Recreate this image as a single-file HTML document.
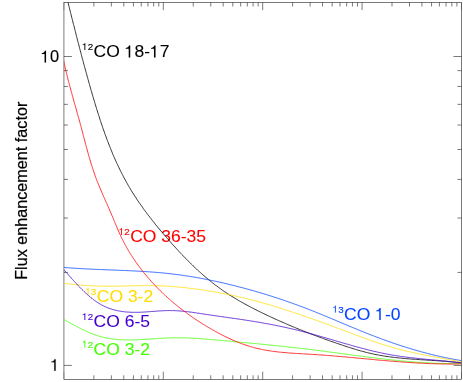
<!DOCTYPE html>
<html><head><meta charset="utf-8"><title>Flux enhancement factor</title>
<style>
html,body{margin:0;padding:0;background:#fff;}
body{width:463px;height:382px;overflow:hidden;}
svg{display:block;will-change:transform;}
text{font-family:"Liberation Sans",sans-serif;font-kerning:none;}
</style></head><body>
<svg width="463" height="382" viewBox="0 0 463 382">
<rect x="0" y="0" width="463" height="382" fill="#ffffff"/>
<defs><clipPath id="plotclip"><rect x="63.95" y="2.50" width="397.50" height="376.80"/></clipPath></defs>
<g fill="none" stroke="#000" stroke-width="0.52" shape-rendering="auto">
<rect x="63.95" y="2.50" width="397.50" height="376.80"/>
<path d="M93.86 2.50 v4.0 M93.86 379.30 v-4.0 M111.36 2.50 v4.0 M111.36 379.30 v-4.0 M123.78 2.50 v4.0 M123.78 379.30 v-4.0 M133.41 2.50 v4.0 M133.41 379.30 v-4.0 M141.28 2.50 v4.0 M141.28 379.30 v-4.0 M147.93 2.50 v4.0 M147.93 379.30 v-4.0 M153.69 2.50 v4.0 M153.69 379.30 v-4.0 M158.78 2.50 v4.0 M158.78 379.30 v-4.0 M163.32 2.50 v7.6 M163.32 379.30 v-7.6 M193.24 2.50 v4.0 M193.24 379.30 v-4.0 M210.74 2.50 v4.0 M210.74 379.30 v-4.0 M223.15 2.50 v4.0 M223.15 379.30 v-4.0 M232.79 2.50 v4.0 M232.79 379.30 v-4.0 M240.65 2.50 v4.0 M240.65 379.30 v-4.0 M247.31 2.50 v4.0 M247.31 379.30 v-4.0 M253.07 2.50 v4.0 M253.07 379.30 v-4.0 M258.15 2.50 v4.0 M258.15 379.30 v-4.0 M262.70 2.50 v7.6 M262.70 379.30 v-7.6 M292.61 2.50 v4.0 M292.61 379.30 v-4.0 M310.11 2.50 v4.0 M310.11 379.30 v-4.0 M322.53 2.50 v4.0 M322.53 379.30 v-4.0 M332.16 2.50 v4.0 M332.16 379.30 v-4.0 M340.03 2.50 v4.0 M340.03 379.30 v-4.0 M346.68 2.50 v4.0 M346.68 379.30 v-4.0 M352.44 2.50 v4.0 M352.44 379.30 v-4.0 M357.53 2.50 v4.0 M357.53 379.30 v-4.0 M362.07 2.50 v7.6 M362.07 379.30 v-7.6 M391.99 2.50 v4.0 M391.99 379.30 v-4.0 M409.49 2.50 v4.0 M409.49 379.30 v-4.0 M421.90 2.50 v4.0 M421.90 379.30 v-4.0 M431.54 2.50 v4.0 M431.54 379.30 v-4.0 M439.40 2.50 v4.0 M439.40 379.30 v-4.0 M446.06 2.50 v4.0 M446.06 379.30 v-4.0 M451.82 2.50 v4.0 M451.82 379.30 v-4.0 M456.90 2.50 v4.0 M456.90 379.30 v-4.0 M63.95 365.40 h8 M461.45 365.40 h-8 M63.95 56.50 h8 M461.45 56.50 h-8 M63.95 272.41 h4 M461.45 272.41 h-4 M63.95 218.02 h4 M461.45 218.02 h-4 M63.95 179.42 h4 M461.45 179.42 h-4 M63.95 149.49 h4 M461.45 149.49 h-4 M63.95 125.03 h4 M461.45 125.03 h-4 M63.95 104.35 h4 M461.45 104.35 h-4 M63.95 86.44 h4 M461.45 86.44 h-4 M63.95 70.63 h4 M461.45 70.63 h-4"/>
<path stroke-opacity="0.45" d="M63.95 2.50 v7.6 M63.95 379.30 v-7.6 M461.45 2.50 v7.6 M461.45 379.30 v-7.6"/>
</g>
<path transform="translate(40.86 62.40) scale(0.01640 -0.01640)" d="M314 0H230V518H60V562C150 568 222 610 250 709H314Z" fill="#000" stroke="#000" stroke-width="8.5"/>
<text transform="translate(49.98 62.40) scale(1.0000 1)" font-size="16.40" fill="#000" stroke="#000" stroke-width="0.14">0</text>
<path transform="translate(50.48 370.80) scale(0.01640 -0.01640)" d="M314 0H230V518H60V562C150 568 222 610 250 709H314Z" fill="#000" stroke="#000" stroke-width="8.5"/>
<text transform="translate(26.5 190.75) rotate(-90)" font-size="16.2" text-anchor="middle" fill="#000" stroke="#000" stroke-width="0.20">Flux enhancement factor</text>
<path transform="translate(82.20 50.10) scale(0.00980 -0.00980)" d="M314 0H230V518H60V562C150 568 222 610 250 709H314Z" fill="#000000" stroke="#000000" stroke-width="12.2"/>
<text transform="translate(87.65 50.10) scale(1.0000 1)" font-size="9.80" fill="#000000" stroke="#000000" stroke-width="0.12">2</text>
<text transform="translate(93.60 57.40) scale(1.0355 1)" font-size="16.90" fill="#000000" stroke="#000000" stroke-width="0.08">CO</text>
<path transform="translate(124.71 57.40) scale(0.01750 -0.01690)" d="M314 0H230V518H60V562C150 568 222 610 250 709H314Z" fill="#000000" stroke="#000000" stroke-width="4.7"/>
<text transform="translate(134.44 57.40) scale(1.0355 1)" font-size="16.90" fill="#000000" stroke="#000000" stroke-width="0.08">8-</text>
<path transform="translate(150.00 57.40) scale(0.01750 -0.01690)" d="M314 0H230V518H60V562C150 568 222 610 250 709H314Z" fill="#000000" stroke="#000000" stroke-width="4.7"/>
<text transform="translate(159.73 57.40) scale(1.0355 1)" font-size="16.90" fill="#000000" stroke="#000000" stroke-width="0.08">7</text>
<path transform="translate(118.80 234.90) scale(0.00980 -0.00980)" d="M314 0H230V518H60V562C150 568 222 610 250 709H314Z" fill="#ff0000" stroke="#ff0000" stroke-width="12.2"/>
<text transform="translate(124.25 234.90) scale(1.0000 1)" font-size="9.80" fill="#ff0000" stroke="#ff0000" stroke-width="0.12">2</text>
<text transform="translate(130.20 242.20) scale(1.0355 1)" font-size="16.90" fill="#ff0000" stroke="#ff0000" stroke-width="0.08">CO 36-35</text>
<path transform="translate(332.70 312.60) scale(0.00980 -0.00980)" d="M314 0H230V518H60V562C150 568 222 610 250 709H314Z" fill="#0044ff" stroke="#0044ff" stroke-width="12.2"/>
<text transform="translate(338.15 312.60) scale(1.0000 1)" font-size="9.80" fill="#0044ff" stroke="#0044ff" stroke-width="0.12">3</text>
<text transform="translate(344.10 319.90) scale(1.0355 1)" font-size="16.90" fill="#0044ff" stroke="#0044ff" stroke-width="0.08">CO</text>
<path transform="translate(375.22 319.90) scale(0.01750 -0.01690)" d="M314 0H230V518H60V562C150 568 222 610 250 709H314Z" fill="#0044ff" stroke="#0044ff" stroke-width="4.7"/>
<text transform="translate(384.95 319.90) scale(1.0355 1)" font-size="16.90" fill="#0044ff" stroke="#0044ff" stroke-width="0.08">-0</text>
<path transform="translate(85.40 294.70) scale(0.00980 -0.00980)" d="M314 0H230V518H60V562C150 568 222 610 250 709H314Z" fill="#ffdd00" stroke="#ffdd00" stroke-width="12.2"/>
<text transform="translate(90.85 294.70) scale(1.0000 1)" font-size="9.80" fill="#ffdd00" stroke="#ffdd00" stroke-width="0.12">3</text>
<text transform="translate(96.80 302.00) scale(1.0355 1)" font-size="16.90" fill="#ffdd00" stroke="#ffdd00" stroke-width="0.08">CO 3-2</text>
<path transform="translate(82.20 320.10) scale(0.00980 -0.00980)" d="M314 0H230V518H60V562C150 568 222 610 250 709H314Z" fill="#4400cc" stroke="#4400cc" stroke-width="12.2"/>
<text transform="translate(87.65 320.10) scale(1.0000 1)" font-size="9.80" fill="#4400cc" stroke="#4400cc" stroke-width="0.12">2</text>
<text transform="translate(93.60 327.40) scale(1.0355 1)" font-size="16.90" fill="#4400cc" stroke="#4400cc" stroke-width="0.08">CO 6-5</text>
<path transform="translate(82.20 347.50) scale(0.00980 -0.00980)" d="M314 0H230V518H60V562C150 568 222 610 250 709H314Z" fill="#44ff00" stroke="#44ff00" stroke-width="12.2"/>
<text transform="translate(87.65 347.50) scale(1.0000 1)" font-size="9.80" fill="#44ff00" stroke="#44ff00" stroke-width="0.12">2</text>
<text transform="translate(93.60 354.80) scale(1.0355 1)" font-size="16.90" fill="#44ff00" stroke="#44ff00" stroke-width="0.08">CO 3-2</text>
<g fill="none" stroke-width="0.80" stroke-linejoin="round" clip-path="url(#plotclip)">
<path stroke="#000000" d="M59.9 -30.1 L60.2 -28.8 L60.5 -27.6 L60.9 -26.4 L61.2 -25.2 L61.5 -24.0 L61.8 -22.7 L62.1 -21.5 L62.4 -20.3 L62.7 -19.1 L63.0 -17.9 L63.3 -16.7 L63.6 -15.4 L63.9 -14.2 L64.2 -13.0 L64.5 -11.8 L64.8 -10.6 L65.1 -9.4 L65.4 -8.2 L65.7 -7.0 L66.0 -5.7 L66.3 -4.5 L66.6 -3.3 L66.9 -2.1 L67.2 -0.9 L67.5 0.3 L67.8 1.5 L68.1 2.7 L68.4 3.9 L68.7 5.1 L69.0 6.4 L69.3 7.6 L69.6 8.8 L69.9 10.0 L70.2 11.2 L70.5 12.4 L70.8 13.6 L71.1 14.8 L71.4 16.0 L71.7 17.2 L72.0 18.4 L72.3 19.6 L72.6 20.8 L72.9 22.0 L73.2 23.2 L73.5 24.4 L73.9 25.6 L74.2 26.9 L74.5 28.1 L74.8 29.3 L75.1 30.5 L75.4 31.7 L75.7 32.9 L76.0 34.1 L76.3 35.3 L76.6 36.5 L76.9 37.7 L77.2 38.9 L77.5 40.1 L77.8 41.3 L78.2 42.5 L78.5 43.7 L78.8 44.9 L79.1 46.1 L79.4 47.3 L79.7 48.5 L80.0 49.7 L80.3 50.9 L80.7 52.1 L81.0 53.3 L81.3 54.5 L81.6 55.7 L81.9 56.9 L82.2 58.1 L82.6 59.3 L82.9 60.5 L83.2 61.7 L83.5 62.9 L83.8 64.1 L84.2 65.3 L84.5 66.5 L84.8 67.7 L85.1 68.9 L85.5 70.1 L85.8 71.3 L86.1 72.5 L86.5 73.7 L86.8 74.9 L87.1 76.1 L87.5 77.3 L87.8 78.5 L88.1 79.7 L88.5 80.9 L88.8 82.1 L89.1 83.3 L89.5 84.5 L89.8 85.7 L90.2 86.9 L90.5 88.1 L90.8 89.3 L91.2 90.5 L91.5 91.7 L91.9 92.9 L92.2 94.1 L92.6 95.3 L92.9 96.5 L93.3 97.7 L93.6 98.9 L94.0 100.1 L94.4 101.3 L94.7 102.5 L95.1 103.7 L95.4 104.9 L95.8 106.1 L96.2 107.3 L96.5 108.5 L96.9 109.7 L97.3 110.9 L97.6 112.1 L98.0 113.2 L98.4 114.4 L98.8 115.6 L99.2 116.8 L99.6 118.0 L99.9 119.2 L100.3 120.4 L100.7 121.6 L101.1 122.8 L101.5 124.0 L101.9 125.1 L102.3 126.3 L102.7 127.5 L103.1 128.7 L103.5 129.9 L104.0 131.1 L104.4 132.2 L104.8 133.4 L105.2 134.6 L105.6 135.8 L106.1 136.9 L106.5 138.1 L106.9 139.3 L107.4 140.5 L107.8 141.6 L108.3 142.8 L108.7 144.0 L109.2 145.1 L109.6 146.3 L110.1 147.4 L110.6 148.6 L111.0 149.7 L111.5 150.9 L112.0 152.1 L112.4 153.2 L112.9 154.4 L113.4 155.5 L113.9 156.6 L114.4 157.8 L114.9 158.9 L115.4 160.1 L115.9 161.2 L116.4 162.3 L117.0 163.5 L117.5 164.6 L118.0 165.7 L118.5 166.8 L119.1 167.9 L119.6 169.1 L120.2 170.2 L120.7 171.3 L121.3 172.4 L121.8 173.5 L122.4 174.6 L123.0 175.7 L123.5 176.8 L124.1 177.9 L124.7 179.0 L125.3 180.1 L125.9 181.2 L126.5 182.3 L127.1 183.3 L127.7 184.4 L128.3 185.5 L128.9 186.6 L129.6 187.6 L130.2 188.7 L130.8 189.8 L131.5 190.8 L132.1 191.9 L132.8 192.9 L133.5 194.0 L134.1 195.0 L134.8 196.1 L135.5 197.1 L136.2 198.1 L136.8 199.2 L137.5 200.2 L138.2 201.2 L138.9 202.3 L139.6 203.3 L140.3 204.3 L141.1 205.3 L141.8 206.3 L142.5 207.3 L143.2 208.4 L143.9 209.4 L144.7 210.4 L145.4 211.4 L146.2 212.4 L146.9 213.4 L147.7 214.4 L148.4 215.4 L149.2 216.3 L149.9 217.3 L150.7 218.3 L151.5 219.3 L152.2 220.3 L153.0 221.3 L153.8 222.2 L154.6 223.2 L155.3 224.2 L156.1 225.2 L156.9 226.1 L157.7 227.1 L158.5 228.1 L159.3 229.0 L160.1 230.0 L160.9 230.9 L161.7 231.9 L162.5 232.8 L163.3 233.8 L164.1 234.7 L165.0 235.7 L165.8 236.6 L166.6 237.6 L167.4 238.5 L168.2 239.5 L169.1 240.4 L169.9 241.4 L170.7 242.3 L171.5 243.2 L172.4 244.2 L173.2 245.1 L174.1 246.0 L174.9 246.9 L175.7 247.9 L176.6 248.8 L177.4 249.7 L178.3 250.6 L179.1 251.6 L180.0 252.5 L180.8 253.4 L181.7 254.3 L182.6 255.2 L183.4 256.1 L184.3 257.0 L185.2 257.9 L186.0 258.8 L186.9 259.7 L187.8 260.6 L188.7 261.4 L189.5 262.3 L190.4 263.2 L191.3 264.1 L192.2 264.9 L193.1 265.8 L194.0 266.7 L194.9 267.5 L195.8 268.4 L196.7 269.2 L197.6 270.1 L198.5 270.9 L199.5 271.8 L200.4 272.6 L201.3 273.4 L202.2 274.2 L203.2 275.1 L204.1 275.9 L205.1 276.7 L206.0 277.5 L207.0 278.3 L207.9 279.1 L208.9 279.9 L209.8 280.7 L210.8 281.4 L211.8 282.2 L212.7 283.0 L213.7 283.7 L214.7 284.5 L215.7 285.3 L216.7 286.0 L217.7 286.7 L218.7 287.5 L219.7 288.2 L220.7 288.9 L221.7 289.6 L222.7 290.4 L223.7 291.1 L224.7 291.8 L225.8 292.4 L226.8 293.1 L227.8 293.8 L228.9 294.5 L229.9 295.2 L231.0 295.8 L232.0 296.5 L233.1 297.1 L234.2 297.8 L235.2 298.4 L236.3 299.1 L237.4 299.7 L238.4 300.3 L239.5 301.0 L240.6 301.6 L241.7 302.2 L242.8 302.8 L243.8 303.4 L244.9 304.0 L246.0 304.6 L247.1 305.2 L248.2 305.8 L249.3 306.4 L250.4 307.0 L251.5 307.6 L252.6 308.1 L253.8 308.7 L254.9 309.3 L256.0 309.8 L257.1 310.4 L258.2 311.0 L259.3 311.5 L260.5 312.1 L261.6 312.6 L262.7 313.2 L263.8 313.7 L265.0 314.2 L266.1 314.8 L267.2 315.3 L268.3 315.8 L269.5 316.4 L270.6 316.9 L271.7 317.4 L272.9 317.9 L274.0 318.5 L275.1 319.0 L276.3 319.5 L277.4 320.0 L278.6 320.5 L279.7 321.0 L280.8 321.5 L282.0 322.0 L283.1 322.5 L284.3 323.0 L285.4 323.5 L286.5 324.0 L287.7 324.5 L288.8 325.0 L290.0 325.5 L291.1 326.0 L292.3 326.5 L293.4 326.9 L294.6 327.4 L295.7 327.9 L296.9 328.4 L298.0 328.8 L299.2 329.3 L300.3 329.8 L301.5 330.2 L302.7 330.7 L303.8 331.1 L305.0 331.6 L306.1 332.1 L307.3 332.5 L308.4 333.0 L309.6 333.4 L310.8 333.9 L311.9 334.3 L313.1 334.8 L314.3 335.2 L315.4 335.6 L316.6 336.1 L317.8 336.5 L318.9 336.9 L320.1 337.4 L321.3 337.8 L322.4 338.2 L323.6 338.7 L324.8 339.1 L325.9 339.5 L327.1 339.9 L328.3 340.3 L329.5 340.8 L330.6 341.2 L331.8 341.6 L333.0 342.0 L334.2 342.4 L335.4 342.8 L336.5 343.2 L337.7 343.6 L338.9 344.0 L340.1 344.4 L341.3 344.8 L342.4 345.2 L343.6 345.6 L344.8 346.0 L346.0 346.4 L347.2 346.8 L348.4 347.2 L349.6 347.5 L350.8 347.9 L351.9 348.3 L353.1 348.6 L354.3 349.0 L355.5 349.4 L356.7 349.7 L357.9 350.1 L359.1 350.4 L360.3 350.8 L361.5 351.1 L362.7 351.4 L363.9 351.7 L365.1 352.1 L366.3 352.4 L367.5 352.7 L368.7 353.0 L369.9 353.2 L371.2 353.5 L372.4 353.8 L373.6 354.1 L374.8 354.3 L376.0 354.6 L377.2 354.8 L378.5 355.0 L379.7 355.3 L380.9 355.5 L382.1 355.7 L383.3 355.9 L384.6 356.1 L385.8 356.3 L387.0 356.5 L388.3 356.6 L389.5 356.8 L390.7 357.0 L392.0 357.1 L393.2 357.3 L394.4 357.4 L395.7 357.6 L396.9 357.7 L398.1 357.9 L399.4 358.0 L400.6 358.1 L401.8 358.2 L403.1 358.4 L404.3 358.5 L405.6 358.6 L406.8 358.7 L408.1 358.8 L409.3 358.9 L410.5 359.0 L411.8 359.1 L413.0 359.2 L414.3 359.3 L415.5 359.3 L416.8 359.4 L418.0 359.5 L419.3 359.6 L420.5 359.7 L421.7 359.8 L423.0 359.8 L424.2 359.9 L425.5 360.0 L426.7 360.1 L428.0 360.2 L429.2 360.2 L430.5 360.3 L431.7 360.4 L433.0 360.5 L434.2 360.5 L435.5 360.6 L436.7 360.7 L437.9 360.8 L439.2 360.9 L440.4 361.0 L441.7 361.1 L442.9 361.2 L444.2 361.2 L445.4 361.3 L446.6 361.4 L447.9 361.5 L449.1 361.7 L450.4 361.8 L451.6 361.9 L452.8 362.0 L454.1 362.1 L455.3 362.2 L456.5 362.4 L457.8 362.5 L459.0 362.6 L460.2 362.8 L461.5 362.9"/>
<path stroke="#0044ff" d="M63.5 267.4 L64.3 267.5 L65.1 267.5 L66.0 267.6 L66.8 267.7 L67.6 267.7 L68.4 267.8 L69.2 267.9 L70.1 267.9 L70.9 268.0 L71.7 268.0 L72.5 268.1 L73.4 268.1 L74.2 268.2 L75.0 268.3 L75.8 268.3 L76.7 268.4 L77.5 268.4 L78.3 268.5 L79.1 268.5 L79.9 268.6 L80.8 268.6 L81.6 268.7 L82.4 268.7 L83.2 268.7 L84.1 268.8 L84.9 268.8 L85.7 268.9 L86.5 268.9 L87.4 269.0 L88.2 269.0 L89.0 269.0 L89.8 269.1 L90.7 269.1 L91.5 269.2 L92.3 269.2 L93.1 269.2 L94.0 269.3 L94.8 269.3 L95.6 269.3 L96.4 269.4 L97.3 269.4 L98.1 269.4 L98.9 269.5 L99.7 269.5 L100.6 269.5 L101.4 269.6 L102.2 269.6 L103.0 269.6 L103.9 269.7 L104.7 269.7 L105.5 269.7 L106.3 269.8 L107.2 269.8 L108.0 269.8 L108.8 269.9 L109.7 269.9 L110.5 269.9 L111.3 270.0 L112.1 270.0 L113.0 270.0 L113.8 270.1 L114.6 270.1 L115.4 270.1 L116.3 270.2 L117.1 270.2 L117.9 270.2 L118.7 270.3 L119.6 270.3 L120.4 270.3 L121.2 270.4 L122.0 270.4 L122.9 270.4 L123.7 270.5 L124.5 270.5 L125.3 270.5 L126.2 270.6 L127.0 270.6 L127.8 270.6 L128.6 270.7 L129.5 270.7 L130.3 270.8 L131.1 270.8 L131.9 270.8 L132.8 270.9 L133.6 270.9 L134.4 271.0 L135.2 271.0 L136.1 271.0 L136.9 271.1 L137.7 271.1 L138.5 271.2 L139.4 271.2 L140.2 271.3 L141.0 271.3 L141.8 271.4 L142.7 271.4 L143.5 271.5 L144.3 271.5 L145.1 271.6 L146.0 271.6 L146.8 271.7 L147.6 271.7 L148.4 271.8 L149.3 271.8 L150.1 271.9 L150.9 272.0 L151.7 272.0 L152.5 272.1 L153.4 272.1 L154.2 272.2 L155.0 272.3 L155.8 272.3 L156.7 272.4 L157.5 272.5 L158.3 272.5 L159.1 272.6 L159.9 272.7 L160.8 272.8 L161.6 272.8 L162.4 272.9 L163.2 273.0 L164.1 273.1 L164.9 273.2 L165.7 273.2 L166.5 273.3 L167.3 273.4 L168.2 273.5 L169.0 273.6 L169.8 273.7 L170.6 273.8 L171.4 273.9 L172.2 274.0 L173.1 274.1 L173.9 274.2 L174.7 274.3 L175.5 274.4 L176.3 274.5 L177.2 274.6 L178.0 274.7 L178.8 274.8 L179.6 274.9 L180.4 275.0 L181.2 275.1 L182.1 275.2 L182.9 275.4 L183.7 275.5 L184.5 275.6 L185.3 275.7 L186.1 275.9 L187.0 276.0 L187.8 276.1 L188.6 276.2 L189.4 276.4 L190.2 276.5 L191.0 276.6 L191.8 276.8 L192.7 276.9 L193.5 277.0 L194.3 277.2 L195.1 277.3 L195.9 277.4 L196.7 277.6 L197.5 277.7 L198.3 277.9 L199.2 278.0 L200.0 278.2 L200.8 278.3 L201.6 278.5 L202.4 278.6 L203.2 278.8 L204.0 278.9 L204.8 279.1 L205.6 279.2 L206.5 279.4 L207.3 279.6 L208.1 279.7 L208.9 279.9 L209.7 280.1 L210.5 280.2 L211.3 280.4 L212.1 280.6 L212.9 280.7 L213.7 280.9 L214.5 281.1 L215.3 281.2 L216.2 281.4 L217.0 281.6 L217.8 281.8 L218.6 281.9 L219.4 282.1 L220.2 282.3 L221.0 282.5 L221.8 282.7 L222.6 282.8 L223.4 283.0 L224.2 283.2 L225.0 283.4 L225.8 283.6 L226.6 283.8 L227.4 284.0 L228.2 284.2 L229.0 284.4 L229.8 284.6 L230.6 284.8 L231.4 284.9 L232.2 285.1 L233.0 285.3 L233.8 285.5 L234.6 285.7 L235.4 285.9 L236.2 286.1 L237.0 286.4 L237.8 286.6 L238.6 286.8 L239.4 287.0 L240.2 287.2 L241.0 287.4 L241.8 287.6 L242.6 287.8 L243.4 288.0 L244.2 288.2 L245.0 288.4 L245.8 288.7 L246.6 288.9 L247.4 289.1 L248.2 289.3 L249.0 289.5 L249.8 289.8 L250.6 290.0 L251.4 290.2 L252.2 290.4 L253.0 290.6 L253.8 290.9 L254.6 291.1 L255.4 291.3 L256.2 291.6 L257.0 291.8 L257.8 292.0 L258.6 292.3 L259.3 292.5 L260.1 292.7 L260.9 293.0 L261.7 293.2 L262.5 293.4 L263.3 293.7 L264.1 293.9 L264.9 294.1 L265.7 294.4 L266.5 294.6 L267.2 294.9 L268.0 295.1 L268.8 295.4 L269.6 295.6 L270.4 295.9 L271.2 296.1 L272.0 296.4 L272.8 296.6 L273.5 296.9 L274.3 297.1 L275.1 297.4 L275.9 297.6 L276.7 297.9 L277.5 298.1 L278.3 298.4 L279.0 298.7 L279.8 298.9 L280.6 299.2 L281.4 299.4 L282.2 299.7 L283.0 300.0 L283.7 300.2 L284.5 300.5 L285.3 300.8 L286.1 301.0 L286.9 301.3 L287.6 301.6 L288.4 301.9 L289.2 302.1 L290.0 302.4 L290.8 302.7 L291.5 303.0 L292.3 303.2 L293.1 303.5 L293.9 303.8 L294.6 304.1 L295.4 304.4 L296.2 304.6 L297.0 304.9 L297.7 305.2 L298.5 305.5 L299.3 305.8 L300.1 306.1 L300.8 306.4 L301.6 306.7 L302.4 306.9 L303.2 307.2 L303.9 307.5 L304.7 307.8 L305.5 308.1 L306.2 308.4 L307.0 308.7 L307.8 309.0 L308.5 309.3 L309.3 309.6 L310.1 309.9 L310.8 310.2 L311.6 310.5 L312.4 310.8 L313.2 311.1 L313.9 311.4 L314.7 311.7 L315.5 312.0 L316.2 312.4 L317.0 312.7 L317.7 313.0 L318.5 313.3 L319.3 313.6 L320.0 313.9 L320.8 314.2 L321.6 314.5 L322.3 314.8 L323.1 315.2 L323.9 315.5 L324.6 315.8 L325.4 316.1 L326.2 316.4 L326.9 316.7 L327.7 317.1 L328.4 317.4 L329.2 317.7 L330.0 318.0 L330.7 318.3 L331.5 318.6 L332.2 319.0 L333.0 319.3 L333.8 319.6 L334.5 319.9 L335.3 320.2 L336.1 320.6 L336.8 320.9 L337.6 321.2 L338.3 321.5 L339.1 321.8 L339.9 322.2 L340.6 322.5 L341.4 322.8 L342.1 323.1 L342.9 323.4 L343.7 323.8 L344.4 324.1 L345.2 324.4 L346.0 324.7 L346.7 325.0 L347.5 325.4 L348.2 325.7 L349.0 326.0 L349.8 326.3 L350.5 326.6 L351.3 326.9 L352.1 327.3 L352.8 327.6 L353.6 327.9 L354.3 328.2 L355.1 328.5 L355.9 328.8 L356.6 329.1 L357.4 329.5 L358.2 329.8 L358.9 330.1 L359.7 330.4 L360.4 330.7 L361.2 331.0 L362.0 331.3 L362.7 331.6 L363.5 331.9 L364.3 332.3 L365.0 332.6 L365.8 332.9 L366.6 333.2 L367.3 333.5 L368.1 333.8 L368.9 334.1 L369.6 334.4 L370.4 334.7 L371.2 335.0 L371.9 335.3 L372.7 335.6 L373.5 335.9 L374.3 336.2 L375.0 336.5 L375.8 336.8 L376.6 337.1 L377.3 337.3 L378.1 337.6 L378.9 337.9 L379.7 338.2 L380.4 338.5 L381.2 338.8 L382.0 339.1 L382.8 339.4 L383.5 339.6 L384.3 339.9 L385.1 340.2 L385.9 340.5 L386.6 340.8 L387.4 341.0 L388.2 341.3 L389.0 341.6 L389.7 341.9 L390.5 342.1 L391.3 342.4 L392.1 342.7 L392.9 343.0 L393.6 343.2 L394.4 343.5 L395.2 343.8 L396.0 344.0 L396.8 344.3 L397.5 344.5 L398.3 344.8 L399.1 345.1 L399.9 345.3 L400.7 345.6 L401.5 345.8 L402.2 346.1 L403.0 346.3 L403.8 346.6 L404.6 346.8 L405.4 347.1 L406.2 347.3 L407.0 347.6 L407.7 347.8 L408.5 348.1 L409.3 348.3 L410.1 348.5 L410.9 348.8 L411.7 349.0 L412.5 349.3 L413.3 349.5 L414.1 349.7 L414.9 350.0 L415.6 350.2 L416.4 350.4 L417.2 350.6 L418.0 350.9 L418.8 351.1 L419.6 351.3 L420.4 351.5 L421.2 351.8 L422.0 352.0 L422.8 352.2 L423.6 352.4 L424.4 352.6 L425.2 352.8 L426.0 353.0 L426.8 353.3 L427.6 353.5 L428.4 353.7 L429.2 353.9 L430.0 354.1 L430.8 354.3 L431.6 354.5 L432.4 354.7 L433.2 354.9 L434.0 355.1 L434.8 355.3 L435.6 355.4 L436.4 355.6 L437.2 355.8 L438.0 356.0 L438.8 356.2 L439.6 356.4 L440.4 356.6 L441.2 356.7 L442.0 356.9 L442.8 357.1 L443.7 357.3 L444.5 357.4 L445.3 357.6 L446.1 357.8 L446.9 357.9 L447.7 358.1 L448.5 358.3 L449.3 358.4 L450.1 358.6 L450.9 358.8 L451.8 358.9 L452.6 359.1 L453.4 359.2 L454.2 359.4 L455.0 359.5 L455.8 359.7 L456.7 359.8 L457.5 360.0 L458.3 360.1 L459.1 360.2 L459.9 360.4 L460.7 360.5 L461.6 360.6"/>
<path stroke="#ffdd00" d="M63.5 283.2 L64.3 283.4 L65.1 283.5 L65.9 283.6 L66.8 283.7 L67.6 283.8 L68.4 283.9 L69.2 284.0 L70.0 284.1 L70.8 284.2 L71.7 284.3 L72.5 284.3 L73.3 284.4 L74.1 284.5 L74.9 284.6 L75.7 284.7 L76.5 284.8 L77.4 284.8 L78.2 284.9 L79.0 285.0 L79.8 285.1 L80.6 285.1 L81.4 285.2 L82.3 285.3 L83.1 285.3 L83.9 285.4 L84.7 285.4 L85.5 285.5 L86.3 285.5 L87.2 285.6 L88.0 285.6 L88.8 285.7 L89.6 285.7 L90.4 285.8 L91.3 285.8 L92.1 285.9 L92.9 285.9 L93.7 285.9 L94.5 286.0 L95.3 286.0 L96.2 286.0 L97.0 286.0 L97.8 286.1 L98.6 286.1 L99.4 286.1 L100.3 286.1 L101.1 286.2 L101.9 286.2 L102.7 286.2 L103.5 286.2 L104.3 286.2 L105.2 286.2 L106.0 286.2 L106.8 286.2 L107.6 286.2 L108.4 286.2 L109.3 286.2 L110.1 286.2 L110.9 286.2 L111.7 286.2 L112.5 286.2 L113.4 286.2 L114.2 286.2 L115.0 286.2 L115.8 286.2 L116.6 286.2 L117.5 286.1 L118.3 286.1 L119.1 286.1 L119.9 286.1 L120.7 286.1 L121.6 286.1 L122.4 286.0 L123.2 286.0 L124.0 286.0 L124.8 286.0 L125.7 286.0 L126.5 285.9 L127.3 285.9 L128.1 285.9 L128.9 285.9 L129.8 285.8 L130.6 285.8 L131.4 285.8 L132.2 285.8 L133.0 285.8 L133.9 285.7 L134.7 285.7 L135.5 285.7 L136.3 285.7 L137.1 285.7 L138.0 285.7 L138.8 285.6 L139.6 285.6 L140.4 285.6 L141.2 285.6 L142.1 285.6 L142.9 285.6 L143.7 285.6 L144.5 285.6 L145.3 285.6 L146.2 285.6 L147.0 285.6 L147.8 285.6 L148.6 285.6 L149.4 285.6 L150.2 285.6 L151.1 285.6 L151.9 285.6 L152.7 285.6 L153.5 285.7 L154.3 285.7 L155.1 285.7 L156.0 285.7 L156.8 285.7 L157.6 285.8 L158.4 285.8 L159.2 285.8 L160.0 285.9 L160.9 285.9 L161.7 285.9 L162.5 286.0 L163.3 286.0 L164.1 286.0 L164.9 286.1 L165.8 286.1 L166.6 286.2 L167.4 286.2 L168.2 286.3 L169.0 286.3 L169.8 286.4 L170.6 286.4 L171.5 286.5 L172.3 286.6 L173.1 286.6 L173.9 286.7 L174.7 286.7 L175.5 286.8 L176.3 286.9 L177.2 286.9 L178.0 287.0 L178.8 287.1 L179.6 287.2 L180.4 287.2 L181.2 287.3 L182.0 287.4 L182.8 287.5 L183.7 287.6 L184.5 287.6 L185.3 287.7 L186.1 287.8 L186.9 287.9 L187.7 288.0 L188.5 288.1 L189.3 288.2 L190.2 288.3 L191.0 288.4 L191.8 288.5 L192.6 288.6 L193.4 288.7 L194.2 288.8 L195.0 288.9 L195.8 289.0 L196.7 289.1 L197.5 289.2 L198.3 289.3 L199.1 289.4 L199.9 289.6 L200.7 289.7 L201.5 289.8 L202.3 289.9 L203.1 290.0 L203.9 290.2 L204.8 290.3 L205.6 290.4 L206.4 290.5 L207.2 290.7 L208.0 290.8 L208.8 290.9 L209.6 291.1 L210.4 291.2 L211.2 291.3 L212.0 291.5 L212.9 291.6 L213.7 291.7 L214.5 291.9 L215.3 292.0 L216.1 292.2 L216.9 292.3 L217.7 292.5 L218.5 292.6 L219.3 292.8 L220.1 292.9 L220.9 293.1 L221.7 293.2 L222.5 293.4 L223.3 293.5 L224.2 293.7 L225.0 293.9 L225.8 294.0 L226.6 294.2 L227.4 294.3 L228.2 294.5 L229.0 294.7 L229.8 294.8 L230.6 295.0 L231.4 295.2 L232.2 295.4 L233.0 295.5 L233.8 295.7 L234.6 295.9 L235.4 296.1 L236.2 296.2 L237.0 296.4 L237.8 296.6 L238.6 296.8 L239.4 297.0 L240.2 297.2 L241.0 297.3 L241.8 297.5 L242.6 297.7 L243.4 297.9 L244.2 298.1 L245.0 298.3 L245.8 298.5 L246.6 298.7 L247.4 298.9 L248.2 299.1 L249.0 299.3 L249.8 299.5 L250.6 299.7 L251.4 299.9 L252.2 300.1 L253.0 300.3 L253.8 300.5 L254.6 300.7 L255.3 300.9 L256.1 301.1 L256.9 301.4 L257.7 301.6 L258.5 301.8 L259.3 302.0 L260.1 302.2 L260.9 302.4 L261.7 302.7 L262.5 302.9 L263.3 303.1 L264.0 303.3 L264.8 303.5 L265.6 303.8 L266.4 304.0 L267.2 304.2 L268.0 304.4 L268.8 304.7 L269.5 304.9 L270.3 305.1 L271.1 305.4 L271.9 305.6 L272.7 305.8 L273.5 306.1 L274.3 306.3 L275.0 306.5 L275.8 306.8 L276.6 307.0 L277.4 307.3 L278.2 307.5 L279.0 307.7 L279.7 308.0 L280.5 308.2 L281.3 308.5 L282.1 308.7 L282.9 309.0 L283.6 309.2 L284.4 309.5 L285.2 309.7 L286.0 310.0 L286.7 310.2 L287.5 310.5 L288.3 310.7 L289.1 311.0 L289.9 311.2 L290.6 311.5 L291.4 311.7 L292.2 312.0 L293.0 312.2 L293.7 312.5 L294.5 312.8 L295.3 313.0 L296.1 313.3 L296.8 313.5 L297.6 313.8 L298.4 314.1 L299.2 314.3 L299.9 314.6 L300.7 314.9 L301.5 315.1 L302.3 315.4 L303.0 315.7 L303.8 315.9 L304.6 316.2 L305.4 316.5 L306.1 316.7 L306.9 317.0 L307.7 317.3 L308.4 317.5 L309.2 317.8 L310.0 318.1 L310.8 318.3 L311.5 318.6 L312.3 318.9 L313.1 319.2 L313.8 319.4 L314.6 319.7 L315.4 320.0 L316.2 320.3 L316.9 320.5 L317.7 320.8 L318.5 321.1 L319.2 321.4 L320.0 321.7 L320.8 321.9 L321.5 322.2 L322.3 322.5 L323.1 322.8 L323.9 323.1 L324.6 323.3 L325.4 323.6 L326.2 323.9 L326.9 324.2 L327.7 324.5 L328.5 324.7 L329.2 325.0 L330.0 325.3 L330.8 325.6 L331.5 325.9 L332.3 326.2 L333.1 326.5 L333.8 326.7 L334.6 327.0 L335.4 327.3 L336.1 327.6 L336.9 327.9 L337.7 328.2 L338.4 328.5 L339.2 328.7 L340.0 329.0 L340.7 329.3 L341.5 329.6 L342.3 329.9 L343.1 330.2 L343.8 330.5 L344.6 330.8 L345.4 331.0 L346.1 331.3 L346.9 331.6 L347.7 331.9 L348.4 332.2 L349.2 332.5 L350.0 332.8 L350.7 333.1 L351.5 333.3 L352.3 333.6 L353.0 333.9 L353.8 334.2 L354.6 334.5 L355.3 334.8 L356.1 335.1 L356.9 335.4 L357.6 335.6 L358.4 335.9 L359.2 336.2 L359.9 336.5 L360.7 336.8 L361.5 337.1 L362.2 337.3 L363.0 337.6 L363.8 337.9 L364.6 338.2 L365.3 338.5 L366.1 338.7 L366.9 339.0 L367.6 339.3 L368.4 339.6 L369.2 339.9 L370.0 340.1 L370.7 340.4 L371.5 340.7 L372.3 340.9 L373.0 341.2 L373.8 341.5 L374.6 341.7 L375.4 342.0 L376.1 342.3 L376.9 342.5 L377.7 342.8 L378.5 343.1 L379.3 343.3 L380.0 343.6 L380.8 343.8 L381.6 344.1 L382.4 344.3 L383.1 344.6 L383.9 344.8 L384.7 345.1 L385.5 345.3 L386.3 345.6 L387.1 345.8 L387.8 346.0 L388.6 346.3 L389.4 346.5 L390.2 346.7 L391.0 347.0 L391.8 347.2 L392.5 347.4 L393.3 347.6 L394.1 347.9 L394.9 348.1 L395.7 348.3 L396.5 348.5 L397.3 348.7 L398.1 348.9 L398.9 349.2 L399.7 349.4 L400.5 349.6 L401.2 349.8 L402.0 350.0 L402.8 350.2 L403.6 350.4 L404.4 350.6 L405.2 350.8 L406.0 351.0 L406.8 351.1 L407.6 351.3 L408.4 351.5 L409.2 351.7 L410.0 351.9 L410.8 352.1 L411.6 352.3 L412.4 352.4 L413.2 352.6 L414.0 352.8 L414.8 353.0 L415.6 353.2 L416.4 353.3 L417.2 353.5 L418.0 353.7 L418.8 353.8 L419.6 354.0 L420.4 354.2 L421.2 354.3 L422.0 354.5 L422.8 354.7 L423.6 354.8 L424.4 355.0 L425.2 355.2 L426.0 355.3 L426.9 355.5 L427.7 355.6 L428.5 355.8 L429.3 355.9 L430.1 356.1 L430.9 356.3 L431.7 356.4 L432.5 356.6 L433.3 356.7 L434.1 356.9 L434.9 357.0 L435.7 357.2 L436.5 357.3 L437.3 357.5 L438.1 357.6 L438.9 357.8 L439.7 357.9 L440.6 358.1 L441.4 358.2 L442.2 358.3 L443.0 358.5 L443.8 358.6 L444.6 358.8 L445.4 358.9 L446.2 359.1 L447.0 359.2 L447.8 359.3 L448.6 359.5 L449.4 359.6 L450.2 359.8 L451.0 359.9 L451.8 360.1 L452.7 360.2 L453.5 360.3 L454.3 360.5 L455.1 360.6 L455.9 360.8 L456.7 360.9 L457.5 361.1 L458.3 361.2 L459.1 361.3 L459.9 361.5 L460.7 361.6 L461.5 361.8"/>
<path stroke="#4400cc" d="M63.6 269.5 L64.1 270.1 L64.7 270.7 L65.2 271.2 L65.7 271.8 L66.3 272.4 L66.8 273.0 L67.4 273.6 L67.9 274.2 L68.5 274.9 L69.0 275.5 L69.6 276.1 L70.1 276.7 L70.7 277.3 L71.2 278.0 L71.8 278.6 L72.3 279.2 L72.9 279.8 L73.5 280.5 L74.1 281.1 L74.6 281.7 L75.2 282.4 L75.8 283.0 L76.4 283.6 L76.9 284.2 L77.5 284.9 L78.1 285.5 L78.7 286.1 L79.3 286.7 L79.9 287.4 L80.5 288.0 L81.1 288.6 L81.7 289.2 L82.4 289.8 L83.0 290.4 L83.6 291.0 L84.2 291.6 L84.8 292.2 L85.5 292.8 L86.1 293.4 L86.7 294.0 L87.4 294.6 L88.0 295.1 L88.7 295.7 L89.3 296.3 L90.0 296.8 L90.6 297.4 L91.3 297.9 L92.0 298.4 L92.6 299.0 L93.3 299.5 L94.0 300.0 L94.7 300.5 L95.4 301.0 L96.1 301.5 L96.7 301.9 L97.4 302.4 L98.1 302.8 L98.9 303.3 L99.6 303.7 L100.3 304.1 L101.0 304.6 L101.7 305.0 L102.5 305.4 L103.2 305.7 L103.9 306.1 L104.7 306.5 L105.4 306.8 L106.2 307.1 L106.9 307.5 L107.7 307.8 L108.5 308.1 L109.2 308.3 L110.0 308.6 L110.8 308.9 L111.6 309.1 L112.3 309.4 L113.1 309.6 L113.9 309.8 L114.7 310.0 L115.5 310.2 L116.3 310.4 L117.1 310.6 L117.9 310.8 L118.7 310.9 L119.5 311.1 L120.4 311.2 L121.2 311.3 L122.0 311.5 L122.8 311.6 L123.6 311.7 L124.5 311.8 L125.3 311.9 L126.1 311.9 L126.9 312.0 L127.8 312.1 L128.6 312.1 L129.4 312.2 L130.3 312.2 L131.1 312.3 L132.0 312.3 L132.8 312.3 L133.6 312.3 L134.5 312.3 L135.3 312.3 L136.2 312.3 L137.0 312.3 L137.8 312.3 L138.7 312.3 L139.5 312.3 L140.4 312.2 L141.2 312.2 L142.0 312.2 L142.9 312.1 L143.7 312.1 L144.6 312.0 L145.4 312.0 L146.3 311.9 L147.1 311.8 L147.9 311.8 L148.8 311.7 L149.6 311.7 L150.5 311.6 L151.3 311.5 L152.2 311.5 L153.0 311.4 L153.9 311.3 L154.7 311.3 L155.5 311.2 L156.4 311.2 L157.2 311.1 L158.1 311.0 L158.9 311.0 L159.8 310.9 L160.6 310.9 L161.4 310.8 L162.3 310.8 L163.1 310.7 L164.0 310.7 L164.8 310.7 L165.6 310.6 L166.5 310.6 L167.3 310.6 L168.2 310.6 L169.0 310.6 L169.8 310.5 L170.7 310.6 L171.5 310.6 L172.3 310.6 L173.2 310.6 L174.0 310.6 L174.9 310.7 L175.7 310.7 L176.5 310.7 L177.4 310.8 L178.2 310.8 L179.0 310.9 L179.9 311.0 L180.7 311.0 L181.5 311.1 L182.4 311.2 L183.2 311.2 L184.0 311.3 L184.8 311.4 L185.7 311.5 L186.5 311.6 L187.3 311.7 L188.2 311.8 L189.0 311.9 L189.8 312.0 L190.7 312.1 L191.5 312.2 L192.3 312.3 L193.1 312.5 L194.0 312.6 L194.8 312.7 L195.6 312.8 L196.5 312.9 L197.3 313.1 L198.1 313.2 L199.0 313.3 L199.8 313.4 L200.6 313.6 L201.4 313.7 L202.3 313.8 L203.1 313.9 L203.9 314.1 L204.8 314.2 L205.6 314.3 L206.4 314.4 L207.3 314.6 L208.1 314.7 L208.9 314.8 L209.7 314.9 L210.6 315.1 L211.4 315.2 L212.2 315.3 L213.1 315.4 L213.9 315.5 L214.7 315.7 L215.6 315.8 L216.4 315.9 L217.2 316.0 L218.1 316.1 L218.9 316.3 L219.7 316.4 L220.6 316.5 L221.4 316.6 L222.2 316.7 L223.1 316.9 L223.9 317.0 L224.7 317.1 L225.6 317.2 L226.4 317.3 L227.2 317.4 L228.1 317.6 L228.9 317.7 L229.7 317.8 L230.5 317.9 L231.4 318.0 L232.2 318.2 L233.0 318.3 L233.9 318.4 L234.7 318.5 L235.5 318.6 L236.4 318.8 L237.2 318.9 L238.0 319.0 L238.9 319.1 L239.7 319.2 L240.5 319.4 L241.4 319.5 L242.2 319.6 L243.0 319.7 L243.9 319.9 L244.7 320.0 L245.5 320.1 L246.4 320.2 L247.2 320.4 L248.0 320.5 L248.8 320.6 L249.7 320.8 L250.5 320.9 L251.3 321.0 L252.2 321.2 L253.0 321.3 L253.8 321.4 L254.7 321.6 L255.5 321.7 L256.3 321.8 L257.1 322.0 L258.0 322.1 L258.8 322.2 L259.6 322.4 L260.4 322.5 L261.3 322.7 L262.1 322.8 L262.9 323.0 L263.8 323.1 L264.6 323.3 L265.4 323.4 L266.2 323.6 L267.1 323.7 L267.9 323.9 L268.7 324.0 L269.5 324.2 L270.4 324.3 L271.2 324.5 L272.0 324.6 L272.8 324.8 L273.6 325.0 L274.5 325.1 L275.3 325.3 L276.1 325.5 L276.9 325.6 L277.7 325.8 L278.6 326.0 L279.4 326.1 L280.2 326.3 L281.0 326.5 L281.8 326.6 L282.7 326.8 L283.5 327.0 L284.3 327.2 L285.1 327.4 L285.9 327.5 L286.8 327.7 L287.6 327.9 L288.4 328.1 L289.2 328.3 L290.0 328.5 L290.8 328.7 L291.7 328.9 L292.5 329.0 L293.3 329.2 L294.1 329.4 L294.9 329.6 L295.7 329.8 L296.5 330.0 L297.4 330.2 L298.2 330.4 L299.0 330.6 L299.8 330.8 L300.6 331.0 L301.4 331.2 L302.2 331.4 L303.0 331.6 L303.9 331.9 L304.7 332.1 L305.5 332.3 L306.3 332.5 L307.1 332.7 L307.9 332.9 L308.7 333.1 L309.5 333.4 L310.3 333.6 L311.1 333.8 L312.0 334.0 L312.8 334.2 L313.6 334.5 L314.4 334.7 L315.2 334.9 L316.0 335.1 L316.8 335.4 L317.6 335.6 L318.4 335.8 L319.2 336.0 L320.0 336.3 L320.8 336.5 L321.6 336.7 L322.5 337.0 L323.3 337.2 L324.1 337.4 L324.9 337.7 L325.7 337.9 L326.5 338.1 L327.3 338.4 L328.1 338.6 L328.9 338.8 L329.7 339.1 L330.5 339.3 L331.3 339.5 L332.1 339.8 L332.9 340.0 L333.7 340.3 L334.5 340.5 L335.4 340.7 L336.2 341.0 L337.0 341.2 L337.8 341.4 L338.6 341.7 L339.4 341.9 L340.2 342.1 L341.0 342.4 L341.8 342.6 L342.6 342.9 L343.4 343.1 L344.2 343.3 L345.0 343.6 L345.8 343.8 L346.6 344.0 L347.5 344.2 L348.3 344.5 L349.1 344.7 L349.9 344.9 L350.7 345.2 L351.5 345.4 L352.3 345.6 L353.1 345.9 L353.9 346.1 L354.7 346.3 L355.5 346.5 L356.3 346.8 L357.1 347.0 L358.0 347.2 L358.8 347.4 L359.6 347.6 L360.4 347.9 L361.2 348.1 L362.0 348.3 L362.8 348.5 L363.6 348.7 L364.4 348.9 L365.3 349.1 L366.1 349.3 L366.9 349.6 L367.7 349.8 L368.5 350.0 L369.3 350.2 L370.1 350.4 L370.9 350.6 L371.8 350.8 L372.6 351.0 L373.4 351.2 L374.2 351.4 L375.0 351.5 L375.8 351.7 L376.7 351.9 L377.5 352.1 L378.3 352.3 L379.1 352.5 L379.9 352.6 L380.7 352.8 L381.6 353.0 L382.4 353.2 L383.2 353.3 L384.0 353.5 L384.8 353.7 L385.7 353.8 L386.5 354.0 L387.3 354.2 L388.1 354.3 L389.0 354.5 L389.8 354.6 L390.6 354.8 L391.4 354.9 L392.3 355.1 L393.1 355.2 L393.9 355.3 L394.7 355.5 L395.6 355.6 L396.4 355.7 L397.2 355.9 L398.0 356.0 L398.9 356.1 L399.7 356.2 L400.5 356.4 L401.4 356.5 L402.2 356.6 L403.0 356.7 L403.9 356.8 L404.7 356.9 L405.5 357.0 L406.4 357.2 L407.2 357.3 L408.0 357.4 L408.9 357.5 L409.7 357.6 L410.5 357.7 L411.4 357.8 L412.2 357.9 L413.0 357.9 L413.9 358.0 L414.7 358.1 L415.5 358.2 L416.4 358.3 L417.2 358.4 L418.1 358.5 L418.9 358.6 L419.7 358.7 L420.6 358.7 L421.4 358.8 L422.2 358.9 L423.1 359.0 L423.9 359.1 L424.7 359.1 L425.6 359.2 L426.4 359.3 L427.3 359.4 L428.1 359.5 L428.9 359.5 L429.8 359.6 L430.6 359.7 L431.4 359.8 L432.3 359.9 L433.1 359.9 L434.0 360.0 L434.8 360.1 L435.6 360.2 L436.5 360.2 L437.3 360.3 L438.1 360.4 L439.0 360.5 L439.8 360.6 L440.7 360.6 L441.5 360.7 L442.3 360.8 L443.2 360.9 L444.0 360.9 L444.8 361.0 L445.7 361.1 L446.5 361.2 L447.3 361.3 L448.2 361.4 L449.0 361.4 L449.8 361.5 L450.7 361.6 L451.5 361.7 L452.3 361.8 L453.2 361.9 L454.0 362.0 L454.8 362.1 L455.7 362.2 L456.5 362.3 L457.3 362.3 L458.1 362.4 L459.0 362.5 L459.8 362.6 L460.6 362.7 L461.5 362.9"/>
<path stroke="#44ff00" d="M63.6 319.3 L64.3 319.7 L65.0 320.1 L65.6 320.5 L66.3 320.9 L67.0 321.3 L67.8 321.7 L68.5 322.1 L69.2 322.5 L69.9 322.9 L70.6 323.3 L71.3 323.7 L72.0 324.1 L72.7 324.4 L73.4 324.8 L74.1 325.2 L74.9 325.6 L75.6 326.0 L76.3 326.4 L77.0 326.7 L77.8 327.1 L78.5 327.5 L79.2 327.9 L79.9 328.2 L80.7 328.6 L81.4 329.0 L82.1 329.3 L82.9 329.7 L83.6 330.0 L84.4 330.4 L85.1 330.7 L85.8 331.1 L86.6 331.4 L87.3 331.7 L88.1 332.1 L88.8 332.4 L89.6 332.7 L90.3 333.0 L91.1 333.3 L91.8 333.6 L92.6 333.9 L93.4 334.2 L94.1 334.5 L94.9 334.7 L95.6 335.0 L96.4 335.3 L97.2 335.5 L97.9 335.8 L98.7 336.0 L99.5 336.3 L100.2 336.5 L101.0 336.7 L101.8 336.9 L102.6 337.1 L103.3 337.3 L104.1 337.5 L104.9 337.7 L105.7 337.8 L106.5 338.0 L107.3 338.2 L108.1 338.3 L108.8 338.4 L109.6 338.6 L110.4 338.7 L111.2 338.8 L112.0 338.9 L112.8 339.0 L113.6 339.1 L114.4 339.2 L115.2 339.3 L116.0 339.4 L116.8 339.5 L117.6 339.5 L118.4 339.6 L119.2 339.7 L120.0 339.7 L120.8 339.8 L121.6 339.8 L122.4 339.8 L123.2 339.9 L124.0 339.9 L124.8 339.9 L125.6 339.9 L126.4 339.9 L127.2 339.9 L128.1 340.0 L128.9 340.0 L129.7 340.0 L130.5 339.9 L131.3 339.9 L132.1 339.9 L132.9 339.9 L133.7 339.9 L134.5 339.9 L135.3 339.8 L136.1 339.8 L136.9 339.8 L137.8 339.8 L138.6 339.7 L139.4 339.7 L140.2 339.6 L141.0 339.6 L141.8 339.6 L142.6 339.5 L143.4 339.5 L144.2 339.4 L145.0 339.4 L145.8 339.3 L146.7 339.3 L147.5 339.2 L148.3 339.2 L149.1 339.1 L149.9 339.1 L150.7 339.0 L151.5 339.0 L152.3 338.9 L153.1 338.9 L153.9 338.8 L154.7 338.8 L155.5 338.7 L156.3 338.6 L157.2 338.6 L158.0 338.5 L158.8 338.5 L159.6 338.4 L160.4 338.4 L161.2 338.3 L162.0 338.3 L162.8 338.2 L163.6 338.2 L164.4 338.2 L165.2 338.1 L166.0 338.1 L166.8 338.0 L167.6 338.0 L168.5 338.0 L169.3 337.9 L170.1 337.9 L170.9 337.9 L171.7 337.9 L172.5 337.8 L173.3 337.8 L174.1 337.8 L174.9 337.8 L175.7 337.8 L176.5 337.8 L177.3 337.8 L178.1 337.8 L178.9 337.8 L179.8 337.8 L180.6 337.8 L181.4 337.8 L182.2 337.8 L183.0 337.8 L183.8 337.8 L184.6 337.8 L185.4 337.9 L186.2 337.9 L187.0 337.9 L187.8 338.0 L188.6 338.0 L189.4 338.0 L190.3 338.1 L191.1 338.1 L191.9 338.1 L192.7 338.2 L193.5 338.2 L194.3 338.3 L195.1 338.3 L195.9 338.4 L196.7 338.4 L197.5 338.5 L198.3 338.5 L199.1 338.6 L199.9 338.6 L200.7 338.7 L201.6 338.8 L202.4 338.8 L203.2 338.9 L204.0 339.0 L204.8 339.0 L205.6 339.1 L206.4 339.2 L207.2 339.2 L208.0 339.3 L208.8 339.4 L209.6 339.4 L210.4 339.5 L211.2 339.6 L212.1 339.6 L212.9 339.7 L213.7 339.8 L214.5 339.8 L215.3 339.9 L216.1 340.0 L216.9 340.1 L217.7 340.1 L218.5 340.2 L219.3 340.3 L220.1 340.4 L220.9 340.4 L221.7 340.5 L222.5 340.6 L223.3 340.6 L224.2 340.7 L225.0 340.8 L225.8 340.9 L226.6 340.9 L227.4 341.0 L228.2 341.1 L229.0 341.1 L229.8 341.2 L230.6 341.3 L231.4 341.4 L232.2 341.4 L233.0 341.5 L233.8 341.6 L234.6 341.7 L235.4 341.7 L236.2 341.8 L237.0 341.9 L237.9 342.0 L238.7 342.0 L239.5 342.1 L240.3 342.2 L241.1 342.3 L241.9 342.3 L242.7 342.4 L243.5 342.5 L244.3 342.6 L245.1 342.6 L245.9 342.7 L246.7 342.8 L247.5 342.9 L248.3 342.9 L249.1 343.0 L249.9 343.1 L250.7 343.2 L251.5 343.2 L252.4 343.3 L253.2 343.4 L254.0 343.5 L254.8 343.5 L255.6 343.6 L256.4 343.7 L257.2 343.8 L258.0 343.9 L258.8 343.9 L259.6 344.0 L260.4 344.1 L261.2 344.2 L262.0 344.2 L262.8 344.3 L263.6 344.4 L264.4 344.5 L265.2 344.6 L266.0 344.6 L266.8 344.7 L267.6 344.8 L268.4 344.9 L269.2 345.0 L270.1 345.0 L270.9 345.1 L271.7 345.2 L272.5 345.3 L273.3 345.4 L274.1 345.5 L274.9 345.5 L275.7 345.6 L276.5 345.7 L277.3 345.8 L278.1 345.9 L278.9 346.0 L279.7 346.0 L280.5 346.1 L281.3 346.2 L282.1 346.3 L282.9 346.4 L283.7 346.5 L284.5 346.6 L285.3 346.6 L286.1 346.7 L286.9 346.8 L287.7 346.9 L288.5 347.0 L289.3 347.1 L290.1 347.2 L291.0 347.3 L291.8 347.3 L292.6 347.4 L293.4 347.5 L294.2 347.6 L295.0 347.7 L295.8 347.8 L296.6 347.9 L297.4 348.0 L298.2 348.1 L299.0 348.2 L299.8 348.3 L300.6 348.4 L301.4 348.5 L302.2 348.5 L303.0 348.6 L303.8 348.7 L304.6 348.8 L305.4 348.9 L306.2 349.0 L307.0 349.1 L307.8 349.2 L308.6 349.3 L309.4 349.4 L310.2 349.5 L311.0 349.6 L311.8 349.7 L312.6 349.8 L313.4 349.9 L314.2 350.0 L315.0 350.1 L315.8 350.2 L316.6 350.3 L317.4 350.4 L318.2 350.5 L319.0 350.6 L319.8 350.7 L320.7 350.8 L321.5 350.9 L322.3 351.0 L323.1 351.1 L323.9 351.2 L324.7 351.3 L325.5 351.4 L326.3 351.6 L327.1 351.7 L327.9 351.8 L328.7 351.9 L329.5 352.0 L330.3 352.1 L331.1 352.2 L331.9 352.3 L332.7 352.4 L333.5 352.5 L334.3 352.6 L335.1 352.7 L335.9 352.8 L336.7 352.9 L337.5 353.0 L338.3 353.1 L339.1 353.3 L339.9 353.4 L340.7 353.5 L341.5 353.6 L342.3 353.7 L343.1 353.8 L343.9 353.9 L344.7 354.0 L345.5 354.1 L346.3 354.2 L347.1 354.3 L347.9 354.4 L348.7 354.5 L349.5 354.6 L350.3 354.8 L351.1 354.9 L351.9 355.0 L352.7 355.1 L353.5 355.2 L354.3 355.3 L355.1 355.4 L355.9 355.5 L356.7 355.6 L357.5 355.7 L358.3 355.8 L359.1 355.9 L359.9 356.0 L360.8 356.1 L361.6 356.2 L362.4 356.3 L363.2 356.4 L364.0 356.5 L364.8 356.7 L365.6 356.8 L366.4 356.9 L367.2 357.0 L368.0 357.1 L368.8 357.2 L369.6 357.3 L370.4 357.4 L371.2 357.5 L372.0 357.6 L372.8 357.7 L373.6 357.8 L374.4 357.9 L375.2 358.0 L376.0 358.1 L376.8 358.2 L377.6 358.3 L378.4 358.3 L379.2 358.4 L380.0 358.5 L380.8 358.6 L381.6 358.7 L382.4 358.8 L383.2 358.9 L384.0 359.0 L384.8 359.1 L385.6 359.2 L386.4 359.3 L387.2 359.4 L388.0 359.5 L388.9 359.5 L389.7 359.6 L390.5 359.7 L391.3 359.8 L392.1 359.9 L392.9 360.0 L393.7 360.1 L394.5 360.2 L395.3 360.2 L396.1 360.3 L396.9 360.4 L397.7 360.5 L398.5 360.6 L399.3 360.6 L400.1 360.7 L400.9 360.8 L401.7 360.9 L402.5 361.0 L403.3 361.0 L404.1 361.1 L404.9 361.2 L405.7 361.2 L406.5 361.3 L407.4 361.4 L408.2 361.5 L409.0 361.5 L409.8 361.6 L410.6 361.7 L411.4 361.7 L412.2 361.8 L413.0 361.9 L413.8 361.9 L414.6 362.0 L415.4 362.0 L416.2 362.1 L417.0 362.2 L417.8 362.2 L418.6 362.3 L419.4 362.3 L420.2 362.4 L421.1 362.4 L421.9 362.5 L422.7 362.6 L423.5 362.6 L424.3 362.7 L425.1 362.7 L425.9 362.7 L426.7 362.8 L427.5 362.8 L428.3 362.9 L429.1 362.9 L429.9 363.0 L430.7 363.0 L431.6 363.0 L432.4 363.1 L433.2 363.1 L434.0 363.2 L434.8 363.2 L435.6 363.2 L436.4 363.3 L437.2 363.3 L438.0 363.3 L438.8 363.3 L439.6 363.4 L440.4 363.4 L441.3 363.4 L442.1 363.4 L442.9 363.5 L443.7 363.5 L444.5 363.5 L445.3 363.5 L446.1 363.5 L446.9 363.5 L447.7 363.5 L448.5 363.6 L449.4 363.6 L450.2 363.6 L451.0 363.6 L451.8 363.6 L452.6 363.6 L453.4 363.6 L454.2 363.6 L455.0 363.6 L455.8 363.6 L456.7 363.6 L457.5 363.6 L458.3 363.6 L459.1 363.5 L459.9 363.5 L460.7 363.5 L461.5 363.5"/>
<path stroke="#ff0000" d="M63.5 60.0 L63.7 61.1 L64.0 62.3 L64.2 63.4 L64.5 64.5 L64.7 65.6 L65.0 66.7 L65.2 67.9 L65.5 69.0 L65.8 70.1 L66.0 71.2 L66.3 72.3 L66.6 73.5 L66.8 74.6 L67.1 75.7 L67.4 76.8 L67.7 77.9 L67.9 79.0 L68.2 80.1 L68.5 81.3 L68.8 82.4 L69.1 83.5 L69.4 84.6 L69.7 85.7 L70.0 86.8 L70.3 87.9 L70.6 89.0 L70.9 90.1 L71.2 91.2 L71.5 92.3 L71.8 93.4 L72.1 94.5 L72.4 95.6 L72.7 96.7 L73.0 97.8 L73.3 98.9 L73.6 100.1 L73.9 101.2 L74.2 102.3 L74.5 103.4 L74.8 104.5 L75.2 105.6 L75.5 106.7 L75.8 107.8 L76.1 108.9 L76.4 110.0 L76.7 111.1 L77.0 112.2 L77.3 113.3 L77.6 114.4 L77.9 115.5 L78.2 116.6 L78.6 117.7 L78.9 118.8 L79.2 119.9 L79.5 121.0 L79.8 122.1 L80.1 123.2 L80.4 124.4 L80.7 125.5 L81.0 126.6 L81.3 127.7 L81.6 128.8 L81.9 129.9 L82.2 131.0 L82.5 132.1 L82.8 133.2 L83.0 134.4 L83.3 135.5 L83.6 136.6 L83.9 137.7 L84.2 138.8 L84.5 139.9 L84.8 141.0 L85.1 142.1 L85.4 143.3 L85.7 144.4 L86.0 145.5 L86.3 146.6 L86.6 147.7 L86.9 148.8 L87.2 149.9 L87.5 151.0 L87.8 152.1 L88.1 153.2 L88.4 154.3 L88.7 155.5 L89.0 156.6 L89.4 157.7 L89.7 158.8 L90.0 159.9 L90.3 161.0 L90.7 162.1 L91.0 163.2 L91.3 164.3 L91.7 165.4 L92.0 166.4 L92.4 167.5 L92.7 168.6 L93.1 169.7 L93.4 170.8 L93.8 171.9 L94.2 173.0 L94.6 174.1 L94.9 175.1 L95.3 176.2 L95.7 177.3 L96.1 178.4 L96.5 179.4 L96.9 180.5 L97.3 181.6 L97.7 182.6 L98.2 183.7 L98.6 184.7 L99.0 185.8 L99.5 186.9 L99.9 187.9 L100.4 189.0 L100.8 190.0 L101.3 191.1 L101.7 192.1 L102.2 193.2 L102.6 194.2 L103.1 195.3 L103.5 196.3 L104.0 197.4 L104.5 198.4 L104.9 199.4 L105.4 200.5 L105.9 201.5 L106.3 202.6 L106.8 203.6 L107.3 204.7 L107.7 205.7 L108.2 206.8 L108.7 207.8 L109.1 208.9 L109.6 209.9 L110.0 211.0 L110.5 212.0 L110.9 213.1 L111.4 214.1 L111.8 215.2 L112.3 216.2 L112.7 217.3 L113.2 218.3 L113.6 219.4 L114.0 220.5 L114.5 221.5 L114.9 222.6 L115.3 223.6 L115.8 224.7 L116.2 225.8 L116.7 226.8 L117.1 227.9 L117.6 228.9 L118.0 230.0 L118.5 231.0 L118.9 232.1 L119.4 233.1 L119.9 234.2 L120.4 235.2 L120.9 236.3 L121.3 237.3 L121.8 238.3 L122.4 239.4 L122.9 240.4 L123.4 241.4 L123.9 242.4 L124.5 243.5 L125.0 244.5 L125.6 245.5 L126.1 246.5 L126.7 247.5 L127.3 248.5 L127.8 249.5 L128.4 250.5 L129.0 251.5 L129.6 252.5 L130.2 253.5 L130.8 254.4 L131.5 255.4 L132.1 256.4 L132.7 257.3 L133.3 258.3 L134.0 259.2 L134.6 260.2 L135.3 261.1 L135.9 262.1 L136.6 263.0 L137.3 264.0 L137.9 264.9 L138.6 265.8 L139.3 266.7 L140.0 267.6 L140.7 268.6 L141.4 269.5 L142.1 270.4 L142.8 271.3 L143.5 272.2 L144.2 273.1 L144.9 273.9 L145.6 274.8 L146.4 275.7 L147.1 276.6 L147.9 277.5 L148.6 278.3 L149.4 279.2 L150.1 280.0 L150.9 280.9 L151.6 281.7 L152.4 282.6 L153.2 283.4 L154.0 284.3 L154.7 285.1 L155.5 285.9 L156.3 286.7 L157.1 287.6 L157.9 288.4 L158.7 289.2 L159.5 290.0 L160.3 290.8 L161.2 291.6 L162.0 292.4 L162.8 293.2 L163.6 294.0 L164.5 294.8 L165.3 295.5 L166.1 296.3 L167.0 297.1 L167.8 297.9 L168.7 298.6 L169.6 299.4 L170.4 300.1 L171.3 300.9 L172.2 301.6 L173.0 302.4 L173.9 303.1 L174.8 303.8 L175.7 304.6 L176.6 305.3 L177.4 306.0 L178.3 306.7 L179.2 307.4 L180.1 308.2 L181.0 308.9 L182.0 309.6 L182.9 310.3 L183.8 311.0 L184.7 311.6 L185.6 312.3 L186.6 313.0 L187.5 313.7 L188.4 314.4 L189.3 315.0 L190.3 315.7 L191.2 316.3 L192.2 317.0 L193.1 317.7 L194.1 318.3 L195.0 319.0 L196.0 319.6 L196.9 320.2 L197.9 320.9 L198.9 321.5 L199.8 322.1 L200.8 322.7 L201.8 323.4 L202.8 324.0 L203.7 324.6 L204.7 325.2 L205.7 325.8 L206.7 326.4 L207.7 327.0 L208.7 327.6 L209.7 328.1 L210.7 328.7 L211.7 329.3 L212.7 329.9 L213.7 330.4 L214.7 331.0 L215.7 331.6 L216.7 332.1 L217.7 332.7 L218.7 333.2 L219.8 333.8 L220.8 334.3 L221.8 334.8 L222.8 335.4 L223.9 335.9 L224.9 336.4 L225.9 336.9 L227.0 337.4 L228.0 337.9 L229.0 338.4 L230.1 338.9 L231.1 339.3 L232.2 339.8 L233.2 340.3 L234.3 340.7 L235.3 341.2 L236.4 341.6 L237.4 342.0 L238.5 342.4 L239.6 342.9 L240.6 343.3 L241.7 343.7 L242.8 344.1 L243.9 344.4 L244.9 344.8 L246.0 345.2 L247.1 345.6 L248.2 345.9 L249.3 346.2 L250.4 346.6 L251.4 346.9 L252.5 347.2 L253.6 347.5 L254.7 347.8 L255.8 348.1 L256.9 348.4 L258.0 348.6 L259.1 348.9 L260.3 349.1 L261.4 349.4 L262.5 349.6 L263.6 349.8 L264.7 350.0 L265.8 350.2 L267.0 350.4 L268.1 350.6 L269.2 350.8 L270.3 350.9 L271.5 351.1 L272.6 351.3 L273.7 351.4 L274.9 351.6 L276.0 351.7 L277.1 351.8 L278.3 352.0 L279.4 352.1 L280.5 352.2 L281.7 352.3 L282.8 352.4 L284.0 352.5 L285.1 352.6 L286.3 352.7 L287.4 352.8 L288.5 352.9 L289.7 353.0 L290.8 353.1 L292.0 353.2 L293.1 353.2 L294.3 353.3 L295.4 353.4 L296.6 353.5 L297.7 353.5 L298.9 353.6 L300.0 353.7 L301.2 353.7 L302.4 353.8 L303.5 353.9 L304.7 353.9 L305.8 354.0 L307.0 354.1 L308.1 354.1 L309.3 354.2 L310.4 354.3 L311.6 354.3 L312.7 354.4 L313.9 354.5 L315.0 354.6 L316.2 354.6 L317.3 354.7 L318.5 354.8 L319.6 354.9 L320.8 354.9 L321.9 355.0 L323.1 355.1 L324.2 355.2 L325.4 355.3 L326.5 355.4 L327.6 355.5 L328.8 355.6 L329.9 355.6 L331.1 355.7 L332.2 355.8 L333.4 355.9 L334.5 356.0 L335.7 356.1 L336.8 356.2 L337.9 356.3 L339.1 356.4 L340.2 356.5 L341.4 356.6 L342.5 356.7 L343.7 356.8 L344.8 356.9 L346.0 357.0 L347.1 357.1 L348.2 357.2 L349.4 357.3 L350.5 357.4 L351.7 357.5 L352.8 357.6 L353.9 357.7 L355.1 357.8 L356.2 358.0 L357.4 358.1 L358.5 358.2 L359.7 358.3 L360.8 358.4 L361.9 358.5 L363.1 358.6 L364.2 358.7 L365.4 358.8 L366.5 358.9 L367.6 359.0 L368.8 359.1 L369.9 359.2 L371.1 359.3 L372.2 359.4 L373.3 359.5 L374.5 359.6 L375.6 359.8 L376.8 359.9 L377.9 360.0 L379.0 360.1 L380.2 360.2 L381.3 360.3 L382.5 360.4 L383.6 360.5 L384.7 360.6 L385.9 360.7 L387.0 360.8 L388.2 360.9 L389.3 361.0 L390.4 361.1 L391.6 361.2 L392.7 361.2 L393.9 361.3 L395.0 361.4 L396.1 361.5 L397.3 361.6 L398.4 361.7 L399.6 361.8 L400.7 361.9 L401.9 362.0 L403.0 362.0 L404.1 362.1 L405.3 362.2 L406.4 362.3 L407.6 362.4 L408.7 362.5 L409.8 362.5 L411.0 362.6 L412.1 362.7 L413.3 362.7 L414.4 362.8 L415.6 362.9 L416.7 363.0 L417.9 363.0 L419.0 363.1 L420.1 363.1 L421.3 363.2 L422.4 363.3 L423.6 363.3 L424.7 363.4 L425.9 363.4 L427.0 363.5 L428.2 363.5 L429.3 363.6 L430.5 363.6 L431.6 363.7 L432.8 363.7 L433.9 363.7 L435.0 363.8 L436.2 363.8 L437.3 363.8 L438.5 363.9 L439.6 363.9 L440.8 363.9 L441.9 363.9 L443.1 364.0 L444.2 364.0 L445.4 364.0 L446.6 364.0 L447.7 364.0 L448.9 364.0 L450.0 364.0 L451.2 364.0 L452.3 364.0 L453.5 364.0 L454.6 364.0 L455.8 364.0 L456.9 364.0 L458.1 364.0 L459.3 363.9 L460.4 363.9 L461.6 363.9"/>
</g>
</svg></body></html>
